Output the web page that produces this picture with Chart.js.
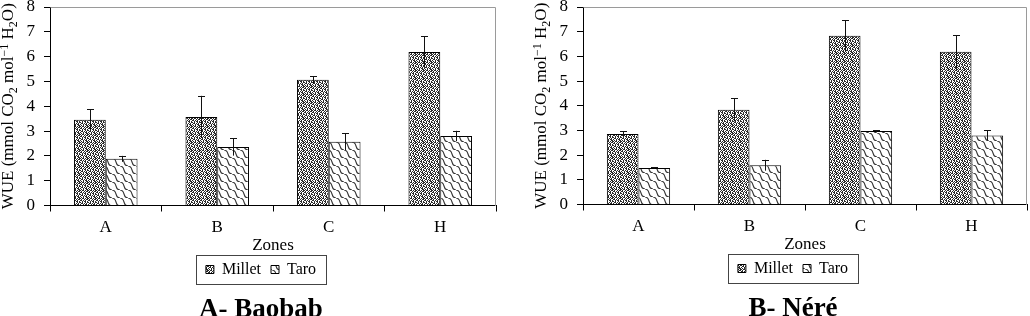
<!DOCTYPE html>
<html>
<head>
<meta charset="utf-8">
<script src="https://cdn.jsdelivr.net/npm/chart.js@4.4.1/dist/chart.umd.min.js"></script>
<style>
  html, body { margin: 0; padding: 0; background: #fff; overflow: hidden; }
  #wrap { position: relative; width: 1030px; height: 316px; overflow: hidden; }
  .box { position: absolute; width: 518px; height: 342px; }
</style>
</head>
<body>
<div id="wrap">
  <div class="box" style="left:0px; top:-18px"><canvas id="baobab"></canvas></div>
  <div class="box" style="left:533px; top:-19px"><canvas id="nere"></canvas></div>
</div>
<script>
// values
const zones = ['A', 'B', 'C', 'H'];
const yTicks = [0, 1, 2, 3, 4, 5, 6, 7, 8];

const baobabMillet = [3.46, 3.57, 5.07, 6.19];
const baobabMilletErr = [0.41, 0.85, 0.14, 0.64];
const baobabTaro = [1.88, 2.36, 2.57, 2.80];
const baobabTaroErr = [0.12, 0.35, 0.34, 0.21];

const nereMillet = [2.86, 3.84, 6.84, 6.19];
const nereMilletErr = [0.10, 0.47, 0.62, 0.66];
const nereTaro = [1.48, 1.59, 2.98, 2.80];
const nereTaroErr = [0.02, 0.22, 0.03, 0.20];

const serif = '"Liberation Serif", "Times New Roman", serif';
Chart.defaults.font.family = serif;
Chart.defaults.color = '#000';

// fill patterns, like the old excel hatches
function milletPattern() {
    const mask = [
        'X.XX.X.X',
        '.X..X.XX',
        'XX.X.X..',
        '..X.XX.X',
        'X.X..X.X',
        '.XX.X.X.',
        'X..X.XX.',
        '.X.X..XX'
    ];
    const c = document.createElement('canvas');
    c.width = 8; c.height = 8;
    const g = c.getContext('2d');
    g.fillStyle = '#fff';
    g.fillRect(0, 0, 8, 8);
    g.fillStyle = '#2a2a2a';
    mask.forEach((row, y) => {
        for (let x = 0; x < row.length; x++) {
            if (row[x] === 'X') g.fillRect(x, y, 1, 1);
        }
    });
    return g.createPattern(c, 'repeat');
}

function taroPattern() {
    const c = document.createElement('canvas');
    c.width = 8; c.height = 8;
    const g = c.getContext('2d');
    g.fillStyle = '#fff';
    g.fillRect(0, 0, 8, 8);
    g.strokeStyle = '#333';
    g.lineWidth = 1.1;
    g.beginPath();
    g.moveTo(0, 0);
    g.bezierCurveTo(6, 0, 2, 8, 8, 8);
    g.stroke();
    return g.createPattern(c, 'repeat');
}

const errorBars = {
    id: 'errorBars',
    afterDatasetsDraw(chart, args, opts) {
        const ctx = chart.ctx;
        const y = chart.scales.y;
        ctx.save();
        ctx.strokeStyle = '#111';
        ctx.lineWidth = 1;
        chart.data.datasets.forEach((ds, i) => {
            const errs = opts.errors[i];
            chart.getDatasetMeta(i).data.forEach((bar, j) => {
                const v = ds.data[j];
                const x = Math.round(bar.x) + 0.5;
                const top = y.getPixelForValue(v + errs[j]);
                const bot = y.getPixelForValue(v - errs[j]);
                ctx.beginPath();
                ctx.moveTo(x, bot);
                ctx.lineTo(x, top);
                ctx.moveTo(x - 3.5, Math.round(top) + 0.5);
                ctx.lineTo(x + 3.5, Math.round(top) + 0.5);
                ctx.stroke();
            });
        });
        ctx.restore();
    }
};

// grey frame on top/right of the plot area
const plotFrame = {
    id: 'plotFrame',
    beforeDatasetsDraw(chart) {
        const a = chart.chartArea;
        const ctx = chart.ctx;
        ctx.save();
        ctx.strokeStyle = '#9a9a9a';
        ctx.lineWidth = 1;
        ctx.beginPath();
        ctx.moveTo(Math.round(a.left) + 0.5, Math.round(a.top) + 0.5);
        ctx.lineTo(Math.round(a.right) - 0.5, Math.round(a.top) + 0.5);
        ctx.lineTo(Math.round(a.right) - 0.5, Math.round(a.bottom));
        ctx.stroke();
        ctx.restore();
    }
};

// y title with real sub/superscripts
const yTitle = {
    id: 'yTitle',
    afterDraw(chart, args, opts) {
        const ctx = chart.ctx;
        const a = chart.chartArea;
        const parts = [
            ['WUE (mmol CO', 0], ['2', 1], [' mol', 0], ['\u22121', -1],
            [' H', 0], ['2', 1], ['O)', 0]
        ];
        const big = '17px ' + serif, small = '12px ' + serif;
        ctx.save();
        let total = 0;
        parts.forEach(p => {
            ctx.font = p[1] ? small : big;
            total += ctx.measureText(p[0]).width;
        });
        ctx.translate(opts.x, (a.top + a.bottom) / 2);
        ctx.rotate(-Math.PI / 2);
        ctx.fillStyle = '#000';
        ctx.textBaseline = 'middle';
        let x = -total / 2;
        parts.forEach(p => {
            ctx.font = p[1] ? small : big;
            ctx.fillText(p[0], x, p[1] * 4.5);
            x += ctx.measureText(p[0]).width;
        });
        ctx.restore();
    }
};

// box round the legend
const legendFrame = {
    id: 'legendFrame',
    afterDraw(chart) {
        const hb = chart.legend.legendHitBoxes;
        if (!hb || !hb.length) return;
        const last = hb[hb.length - 1];
        const x0 = hb[0].left;
        const x1 = last.left + last.width;
        const cx = (x0 + x1) / 2;
        const w = (x1 - x0) + 20;
        const cy = hb[0].top + hb[0].height / 2;
        const ctx = chart.ctx;
        ctx.save();
        ctx.strokeStyle = '#444';
        ctx.lineWidth = 1;
        ctx.strokeRect(Math.round(cx - w / 2) + 0.5, Math.round(cy - 15) + 0.5, Math.round(w), 29);
        ctx.restore();
    }
};

function makeChart(id, title, millet, milletErr, taro, taroErr, padTop, padRight) {
    const ctx = document.getElementById(id).getContext('2d');
    return new Chart(ctx, {
        type: 'bar',
        data: {
            labels: zones,
            datasets: [
                {
                    label: 'Millet',
                    data: millet,
                    backgroundColor: milletPattern(),
                    borderColor: '#000',
                    borderWidth: 1,
                    barPercentage: 1,
                    categoryPercentage: 0.57
                },
                {
                    label: 'Taro',
                    data: taro,
                    backgroundColor: taroPattern(),
                    borderColor: '#000',
                    borderWidth: 1,
                    barPercentage: 1,
                    categoryPercentage: 0.57
                }
            ]
        },
        options: {
            responsive: false,
            animation: false,
            layout: { padding: { left: 26, right: padRight, top: padTop, bottom: 0 } },
            scales: {
                x: {
                    afterFit: axis => { axis.height = 46; },
                    grid: { drawOnChartArea: false, tickLength: 6, color: '#000', offset: true },
                    border: { color: '#000', width: 1 },
                    ticks: { font: { family: serif, size: 17, lineHeight: 1 }, padding: 8, color: '#000' },
                    title: { display: true, text: 'Zones', font: { family: serif, size: 17, lineHeight: 0.7 }, padding: 0, color: '#000' }
                },
                y: {
                    min: yTicks[0],
                    max: yTicks[yTicks.length - 1],
                    afterBuildTicks: axis => { axis.ticks = yTicks.map(v => ({ value: v })); },
                    afterFit: axis => { axis.width = 24; },
                    grid: { drawOnChartArea: false, tickLength: 6, color: '#000' },
                    border: { color: '#000', width: 1 },
                    ticks: { font: { family: serif, size: 17 }, padding: 9, color: '#000' }
                }
            },
            plugins: {
                legend: {
                    position: 'bottom',
                    labels: { boxWidth: 8, boxHeight: 8, font: { family: serif, size: 16 }, padding: 10, color: '#000' }
                },
                title: {
                    display: true,
                    position: 'bottom',
                    text: title,
                    font: { family: serif, size: 27, weight: 'bold', lineHeight: 1 },
                    padding: { top: 9.5, bottom: 0 },
                    color: '#000'
                },
                tooltip: { enabled: false },
                errorBars: { errors: [milletErr, taroErr] },
                yTitle: { x: 9 }
            }
        },
        plugins: [plotFrame, errorBars, yTitle, legendFrame]
    });
}

['baobab', 'nere'].forEach(id => {
    document.getElementById(id).width = 518;
    document.getElementById(id).height = 342;
});

makeChart('baobab', 'A- Baobab', baobabMillet, baobabMilletErr, baobabTaro, baobabTaroErr, 25, 22);
makeChart('nere', 'B- Néré', nereMillet, nereMilletErr, nereTaro, nereTaroErr, 26, 24);
</script>
</body>
</html>
